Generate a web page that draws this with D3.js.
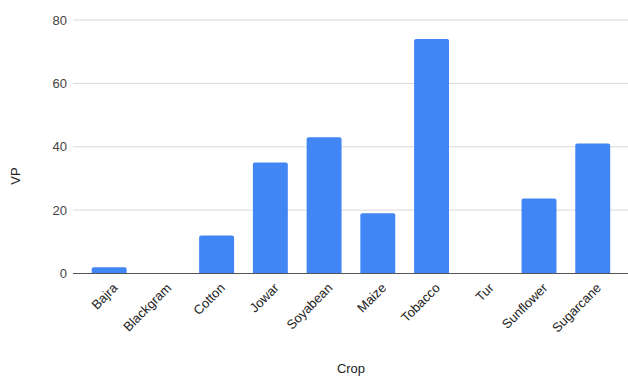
<!DOCTYPE html>
<html>
<head>
<meta charset="utf-8">
<script src="https://cdn.jsdelivr.net/npm/d3@7"></script>
<style>
  html, body { margin: 0; padding: 0; background: #fff; }
  svg { display: block; font-family: "Liberation Sans", Arial, sans-serif; }
</style>
</head>
<body>
<svg id="chart" width="628" height="377"></svg>
<script>
// Crop names and their VP values
const crops = ["Bajra", "Blackgram", "Cotton", "Jowar", "Soyabean", "Maize", "Tobacco", "Tur", "Sunflower", "Sugarcane"];
const vp = [2, 0, 12, 35, 43, 19, 74, 0, 23.7, 41];
const yTicks = [0, 20, 40, 60, 80];

const svg = d3.select("#chart");
const gridLeft = 73, gridRight = 628;
const yBottom = 273.5, yTop = 20;

const x = d3.scaleBand()
  .domain(crops)
  .range([82.3, 619.6])
  .paddingInner(0.35)
  .paddingOuter(0.175);

const y = d3.scaleLinear().domain([0, 80]).range([yBottom, yTop]);

// horizontal gridlines
svg.append("g")
  .selectAll("line")
  .data(yTicks.filter(d => d !== 0))
  .join("line")
  .attr("x1", gridLeft).attr("x2", gridRight)
  .attr("y1", d => y(d)).attr("y2", d => y(d))
  .attr("stroke", "#d9d9d9").attr("stroke-width", 1);

// y tick labels
svg.append("g")
  .selectAll("text")
  .data(yTicks)
  .join("text")
  .attr("x", 67)
  .attr("y", d => y(d))
  .attr("dy", "0.35em")
  .attr("text-anchor", "end")
  .attr("font-size", 13)
  .attr("fill", "#444")
  .text(d => d);

// bars with slightly rounded top corners
const r = 2;
function barPath(d, i) {
  const x0 = x(crops[i]), w = x.bandwidth();
  const yt = y(d), yb = y(0);
  if (yb - yt <= 0) return "";
  const rr = Math.min(r, (yb - yt));
  return `M${x0},${yb}V${yt + rr}Q${x0},${yt} ${x0 + rr},${yt}H${x0 + w - rr}Q${x0 + w},${yt} ${x0 + w},${yt + rr}V${yb}Z`;
}
svg.append("g")
  .selectAll("path")
  .data(vp)
  .join("path")
  .attr("d", barPath)
  .attr("fill", "#4285f4");

// baseline
svg.append("line")
  .attr("x1", gridLeft).attr("x2", gridRight)
  .attr("y1", y(0)).attr("y2", y(0))
  .attr("stroke", "#555").attr("stroke-width", 1.2);

// rotated category labels
svg.append("g")
  .selectAll("text")
  .data(crops)
  .join("text")
  .attr("transform", d => `translate(${x(d) + x.bandwidth() / 2 + 6},${y(0) + 12}) rotate(-45)`)
  .attr("text-anchor", "end")
  .attr("dy", "0.35em")
  .attr("font-size", 13)
  .attr("fill", "#222")
  .text(d => d);

// axis titles
svg.append("text")
  .attr("x", 351).attr("y", 373)
  .attr("text-anchor", "middle")
  .attr("font-size", 13)
  .attr("fill", "#222")
  .text("Crop");

svg.append("text")
  .attr("transform", "translate(20,176) rotate(-90)")
  .attr("text-anchor", "middle")
  .attr("font-size", 13)
  .attr("fill", "#222")
  .text("VP");
</script>
</body>
</html>
